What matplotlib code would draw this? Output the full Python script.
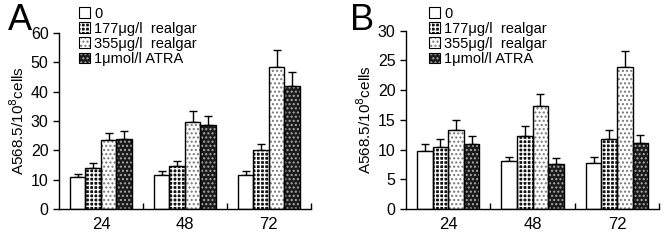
import matplotlib.pyplot as plt
import numpy as np

plt.rcParams['font.family'] = ['Liberation Sans', 'DejaVu Sans']
plt.rcParams['hatch.linewidth'] = 1.0

hours = ['24', '48', '72']
groups = ['0', '177μg/l  realgar', '355μg/l  realgar', '1μmol/l ATRA']

# panel A: mean and upper error bar top
a_mean = [[10.8, 11.5, 11.5],
          [13.9, 14.5, 20.2],
          [23.5, 29.8, 48.3],
          [24.0, 28.8, 42.0]]
a_top = [[11.8, 12.8, 13.0],
         [15.5, 16.2, 22.2],
         [26.0, 33.5, 54.2],
         [26.7, 31.7, 46.8]]

# panel B
b_mean = [[9.8, 8.0, 7.8],
          [10.4, 12.3, 11.8],
          [13.2, 17.3, 23.9],
          [11.0, 7.6, 11.1]]
b_top = [[10.9, 8.8, 8.8],
         [11.8, 13.9, 13.3],
         [14.9, 19.3, 26.5],
         [12.2, 8.6, 12.5]]

face = ['white', '#111111', 'white', '#1a1a1a']
hatch_col = ['black', 'white', '#777777', '#aaaaaa']
hatches = [None, '++++', '....', '....']
hatch_lw = [1.0, 1.0, 1.0, 1.0]


def draw(ax, means, tops, ymax, step, legx):
    x = np.arange(len(hours))
    w = 0.185
    handles = []
    for i in range(4):
        pos = x + (i - 1.5) * w
        m = np.array(means[i])
        err = np.array(tops[i]) - m
        with plt.rc_context({'hatch.linewidth': hatch_lw[i]}):
            ax.bar(pos, m, w, color=face[i], edgecolor=hatch_col[i],
                   hatch=hatches[i], linewidth=0, zorder=2)
            h = plt.Rectangle((0, 0), 1, 1, facecolor=face[i], edgecolor=hatch_col[i],
                              hatch=hatches[i], linewidth=0)
        ax.bar(pos, m, w, fill=False, edgecolor='black', linewidth=1.0, zorder=3)
        ax.errorbar(pos, m, yerr=[np.zeros_like(err), err], fmt='none',
                    ecolor='black', elinewidth=1.0, capsize=3, capthick=1.0, zorder=1)
        edge = plt.Rectangle((0, 0), 1, 1, fill=False, edgecolor='black', linewidth=0.8)
        handles.append((h, edge))
    ax.set_xlim(-0.5, 2.5)
    ax.set_ylim(0, ymax)
    ax.set_yticks(np.arange(0, ymax + 0.1, step))
    ax.set_xticks(x)
    ax.set_xticklabels(hours)
    ax.set_xticks([0.5, 1.5, 2.5], minor=True)
    ax.tick_params(axis='x', which='major', length=0, labelsize=12, pad=6)
    ax.tick_params(axis='x', which='minor', direction='in', length=4, width=1)
    ax.tick_params(axis='y', direction='out', length=4, width=1, labelsize=11.5)
    for s in ['top', 'right']:
        ax.spines[s].set_visible(False)
    for s in ['left', 'bottom']:
        ax.spines[s].set_linewidth(1.0)
    ax.set_ylabel('A568.5/10$^8$cells', fontsize=11, labelpad=3)
    fig.legend(handles, groups, loc='upper left', bbox_to_anchor=(legx, 1.0),
               frameon=False, fontsize=10.5, handlelength=0.75, handleheight=0.75,
               handletextpad=0.3, labelspacing=0.08, borderaxespad=0.05)


fig = plt.figure(figsize=(6.7, 2.41), dpi=100)
ax1 = fig.add_axes([0.088, 0.133, 0.376, 0.73])
ax2 = fig.add_axes([0.606, 0.133, 0.378, 0.74])
draw(ax1, a_mean, a_top, 60, 10, 0.108)
draw(ax2, b_mean, b_top, 30, 5, 0.63)
fig.text(0.012, 0.876, 'A', fontsize=26, ha='left', va='baseline')
fig.text(0.523, 0.876, 'B', fontsize=26, ha='left', va='baseline')

plt.savefig('out.png', dpi=100)
